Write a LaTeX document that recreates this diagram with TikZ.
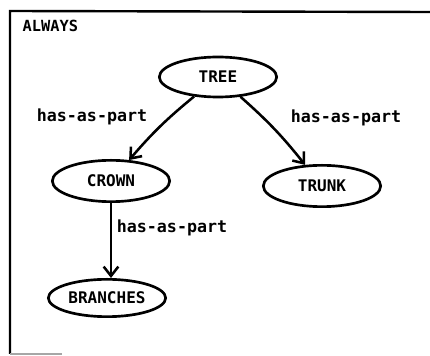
\documentclass[tikz,border=0pt]{standalone}
\usepackage{fontspec}
\newfontfamily\printfont{DejaVu Sans Mono}
\usetikzlibrary{arrows.meta,shapes.geometric}

\begin{document}
\begin{tikzpicture}[x=0.75pt,y=-0.75pt]
\tikzset{concept/.style={ellipse,draw,line width=2pt,inner sep=0pt,minimum width=88pt,minimum height=30pt,font=\printfont\bfseries\fontsize{12}{13}\selectfont},
  partof/.style={line width=1.9pt,-{Straight Barb[length=7pt,width=11pt,line width=1.9pt]}},
  rel/.style={font=\printfont\bfseries\fontsize{12.5}{13}\selectfont}}
\useasboundingbox (0,0) rectangle (430,356);
% frame of the context
\coordinate (fbl) at (10,354);
\coordinate (ftl) at (10,11);
\coordinate (ftr) at (430,12);
\draw[line width=1.8pt] (fbl) -- (ftl) -- (ftr);
\coordinate (fbs) at (62,354);
\draw[black!35,line width=0.8pt] (fbl) -- (fbs);
\node[anchor=west,font=\printfont\bfseries\fontsize{11.5}{12}\selectfont] (ctx) at (18,26) {ALWAYS};
% concepts
\node[concept] (tree) at (218,77) {TREE};
\node[concept,minimum height=31pt] (crown) at (111,181) {CROWN};
\node[concept,minimum height=31pt] (trunk) at (322,186) {TRUNK};
\node[concept,minimum height=28pt] (branches) at (107,298) {BRANCHES};
% relations
\draw[partof] (tree) to[bend right=5] (crown);
\draw[partof] (tree) to[bend left=5] (trunk);
\draw[partof] (crown) -- (crown |- branches.north);
\node[rel] (r1) at (92,117) {has-as-part};
\node[rel] (r2) at (346,118) {has-as-part};
\node[rel] (r3) at (172,228) {has-as-part};
\end{tikzpicture}
\end{document}
